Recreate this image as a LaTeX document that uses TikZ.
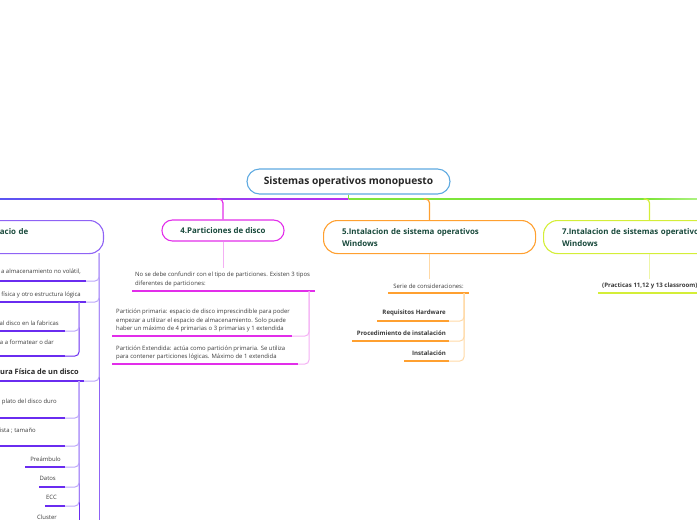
\documentclass[tikz,border=0pt]{standalone}
\usepackage{fontspec}
\setmainfont{Open Sans}
\usetikzlibrary{positioning}
\definecolor{rootc}{HTML}{5DA9E0}
\definecolor{headc}{HTML}{17483A}
\definecolor{txtc}{HTML}{3A3A3A}
\definecolor{vio}{HTML}{6A2CF0}
\definecolor{viomid}{HTML}{8F63F5}
\definecolor{violt}{HTML}{BCA6FA}
\definecolor{blv}{HTML}{5A55F2}
\definecolor{purp}{HTML}{B830F0}
\definecolor{mag}{HTML}{E22EEA}
\definecolor{maglt}{HTML}{F4B0F4}
\definecolor{ora}{HTML}{FFA030}
\definecolor{oralt}{HTML}{FFD9A6}
\definecolor{lim}{HTML}{D4EE38}
\definecolor{limlt}{HTML}{EEF6A8}
\definecolor{grn}{HTML}{7DE53A}
\definecolor{grnlt}{HTML}{ADF282}

\begin{document}
\begin{tikzpicture}[x=1pt, y=-1pt,
  topic/.style={draw, line width=1.1pt, rounded corners=14pt, minimum height=33pt,
    inner xsep=18.5pt, align=left, text=headc, font=\bfseries\fontsize{7.9}{12}\selectfont},
  note/.style={inner sep=0pt, align=left, text=txtc, font=\fontsize{5.95}{8.5}\selectfont},
  bnote/.style={inner sep=0pt, text=txtc, font=\bfseries\fontsize{6.1}{8.5}\selectfont},
  uline/.style={line width=1.4pt},
  link/.style={line width=1pt, rounded corners=4pt}]
  \useasboundingbox (0,0) rectangle (697,520);
  \clip (0,0) rectangle (697,520);

  % central topic and main line
  \node[draw=rootc, line width=1.1pt, rounded corners=12.5pt, minimum width=203pt, minimum height=25pt,
    text=black!85, font=\bfseries\fontsize{10.2}{12}\selectfont] (root) at (348.5,181.5) {Sistemas operativos monopuesto};
  \coordinate (hub) at (348.5,199);
  \shade[left color=blv, right color=purp] (0,198.1) rectangle (348.5,199.9);
  \fill[grn] (348.5,198.1) rectangle (649,199.9);
  \shade[left color=grn, right color=grnlt] (649,198.1) rectangle (697,199.9);
  \draw[grn, line width=1.8pt] (root.south) -- (hub);

  % main topics
  \node[topic, draw=viomid, anchor=north east, text width=85pt] (esp) at (104,220) {acio de\\\mbox{}};
  \node[topic, draw=mag, rounded corners=10.5pt, minimum height=21pt, minimum width=112pt] (part) at (223,230.5) {4.Particiones de disco};
  \node[topic, draw=ora, anchor=north west, text width=175pt] (win5) at (323,220) {5.Intalacion de sistema operativos\\Windows};
  \node[topic, draw=lim, anchor=north west, text width=175pt] (win7) at (543,220) {7.Intalacion de sistemas operativos\\Windows};
  \draw[mag, line width=1.2pt, rounded corners=4pt] ([xshift=-6pt]part.north |- hub) -| (part.north);
  \draw[ora, line width=1.2pt, rounded corners=4pt] ([xshift=-6pt]win5.north |- hub) -| (win5.north);
  \draw[lim, line width=1.2pt, rounded corners=4pt] ([xshift=-6pt]win7.north |- hub) -| (win7.north);

  % 4. particiones
  \node[note, anchor=north west] (tipos) at (135,272) {No se debe confundir con el tipo de particiones. Existen 3 tipos\\diferentes de particiones:};
  \draw[maglt, line width=1pt] (part.south) -- (part.south |- 0,268);
  \draw[uline, mag] (132,291) -- (315,291);
  \node[note, anchor=west] (prim) at (116,320.5) {Partición primaria: espacio de disco imprescindible para poder\\empezar a utilizar el espacio de almacenamiento. Solo puede\\haber un máximo de 4 primarias o 3 primarias y 1 extendida};
  \node[note, anchor=west] (ext) at (116,353) {Partición Extendida: actúa como partición primaria. Se utiliza\\para contener particiones lógicas. Máximo de 1 extendida};
  \draw[link, maglt] (309,291) |- (290,336);
  \draw[link, maglt] (309,291) |- (295,364);
  \draw[uline, mag] (112,336) -- (292,336);
  \draw[uline, mag] (112,364) -- (298,364);

  % 5. instalacion
  \draw[oralt, line width=1pt] (win5.south) -- (win5.south |- 0,279);
  \node[note, anchor=center] (serie) at (428.5,286) {Serie de consideraciones:};
  \draw[uline, ora] (388,293) -- (469,293);
  \node[bnote, anchor=east] (req) at (446,313) {Requisitos Hardware};
  \node[bnote, anchor=east] (proc) at (446,333) {Procedimiento de instalación};
  \node[bnote, anchor=east] (inst) at (446,353) {Instalación};
  \foreach \yy in {321,341,361} \draw[link, oralt] (464,293) |- (446,\yy);
  \draw[uline, ora] (377,321) -- (449,321);
  \draw[uline, ora] (352,341) -- (449,341);
  \draw[uline, ora] (404,361) -- (449,361);

  % 7. instalacion
  \draw[limlt, line width=1pt] (win7.south) -- (win7.south |- 0,279);
  \node[bnote, anchor=west] (prac) at (602,286) {(Practicas 11,12 y 13 classroom)};
  \draw[uline, lim] (598,293) -- (697,293);

  % left branch
  \draw[viomid, line width=1pt] (99,253) -- (99,520);
  \node[note, anchor=east] (vol) at (81,272) {a almacenamiento no volátil,};
  \node[note, anchor=east] (fis) at (81,295) {física y otro estructura lógica};
  \node[note, anchor=east] (fab) at (59,323) {al disco en la fabricas};
  \node[note, anchor=east] (form) at (54,342) {a a formatear o dar};
  \node[text=black!85, inner sep=0pt, anchor=east, font=\bfseries\fontsize{7.4}{9}\selectfont] (estr) at (79,372) {ura Física de un disco};
  \foreach \yy in {281,302,381} \draw[link, violt] (99,253) |- (84,\yy);
  \draw[uline, vio] (0,281) -- (86,281);
  \draw[uline, vio] (0,302) -- (86,302);
  \draw[vio, line width=1pt, rounded corners=4pt] (79,302) |- (63,356);
  \draw[link, violt] (79,302) |- (63,331);
  \draw[uline, vio] (0,331) -- (65,331);
  \draw[uline, vio] (0,356) -- (65,356);
  \draw[uline, vio, line width=1.8pt] (0,381) -- (84,381);

  % estructura fisica
  \draw[vio, line width=1pt] (79,381) -- (79,520);
  \node[note, anchor=east] (plato) at (57,402) {plato del disco duro};
  \node[note, anchor=east] (pista) at (36,431) {ista ; tamaño};
  \node[note, anchor=east] (pre) at (61,459) {Preámbulo};
  \node[note, anchor=east] (dat) at (56,478) {Datos};
  \node[note, anchor=east] (ecc) at (57,497) {ECC};
  \node[note, anchor=east] (clu) at (57,517) {Cluster};
  \foreach \yy in {418,446,467,487,506} \draw[link, violt] (79,381) |- (63,\yy);
  \draw[uline, vio] (0,418) -- (65,418);
  \draw[uline, vio] (0,446) -- (65,446);
  \draw[uline, vio] (25,467) -- (65,467);
  \draw[uline, vio] (39,487) -- (65,487);
  \draw[uline, vio] (45,506) -- (65,506);
\end{tikzpicture}
\end{document}
